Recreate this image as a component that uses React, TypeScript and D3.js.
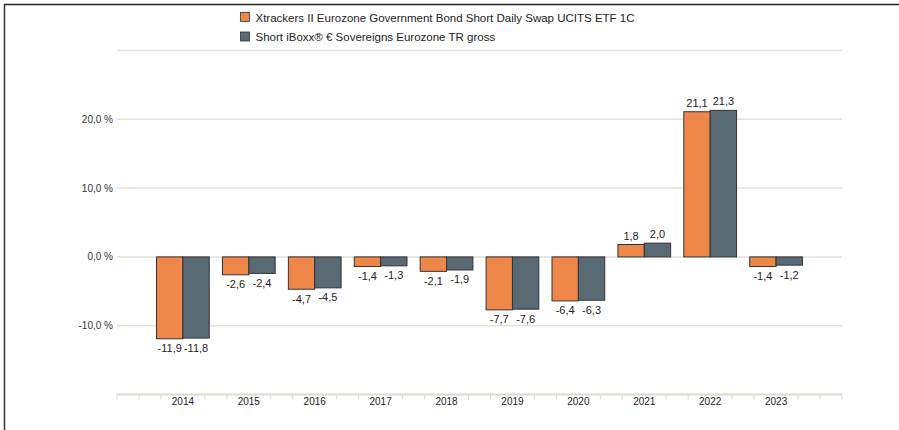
import React from "react";
import * as d3 from "d3";

const years = ["2014", "2015", "2016", "2017", "2018", "2019", "2020", "2021", "2022", "2023"];
const fundValues = [-11.9, -2.6, -4.7, -1.4, -2.1, -7.7, -6.4, 1.8, 21.1, -1.4];
const indexValues = [-11.8, -2.4, -4.5, -1.3, -1.9, -7.6, -6.3, 2.0, 21.3, -1.2];
const seriesNames = [
  "Xtrackers II Eurozone Government Bond Short Daily Swap UCITS ETF 1C",
  "Short iBoxx® € Sovereigns Eurozone TR gross",
];
const yTicks = [-10, 0, 10, 20, 30];

const colors = ["#EF874B", "#596A75"];
const W = 899;
const H = 430;
const left = 117;
const right = 842;
const top = 50.5;
const bottom = 394.5;

const fmt = (v: number) => v.toFixed(1).replace(".", ",");

export default function App() {
  const x = d3.scalePoint<string>().domain(years).range([left, right]).padding(1);
  const step = x.step();
  const y = d3.scaleLinear().domain([-20, 30]).range([bottom, top]);
  const groupW = step * 0.8;
  const barW = groupW / 2;
  const series = [fundValues, indexValues];
  const font = "'Liberation Sans', Arial, sans-serif";

  const minorTicks: number[] = [];
  const nMinor = Math.round((right - left) / (step / 3));
  for (let j = 0; j <= nMinor; j++) {
    if (j % 3 === 0 && j > 0 && j < nMinor) continue;
    minorTicks.push(left + (j * step) / 3);
  }

  return (
    <svg width={W} height={H} style={{ position: "absolute", left: 0, top: 0, background: "#fff" }} fontFamily={font}>
      <line x1={4} x2={W} y1={4.5} y2={4.5} stroke="#222" strokeWidth={1.5} />
      <line x1={4.5} x2={4.5} y1={4} y2={H} stroke="#333" strokeWidth={1.5} />

      {/* legend */}
      {seriesNames.map((n, i) => (
        <g key={n} transform={`translate(240.5, ${12.5 + i * 19.5})`}>
          <rect width={9} height={9} fill={colors[i]} stroke="#333" strokeWidth={0.8} />
          <text x={15} y={9} fontSize={11.5} fill="#222">
            {n}
          </text>
        </g>
      ))}

      {/* gridlines */}
      {yTicks.map((t) => (
        <line key={t} x1={left} x2={right} y1={y(t)} y2={y(t)} stroke="#e3e1da" strokeWidth={1.5} />
      ))}
      {yTicks
        .filter((t) => t < 30)
        .map((t) => (
          <text key={t} x={113} y={y(t) + 3.5} textAnchor="end" fontSize={10} fill="#333">
            {`${fmt(t)} %`}
          </text>
        ))}

      {/* bars */}
      {series.map((vals, si) =>
        vals.map((v, i) => {
          const bx = (x(years[i]) as number) - groupW / 2 + si * barW;
          const y0 = y(Math.max(0, v));
          const h = Math.abs(y(v) - y(0));
          return (
            <g key={`${si}-${i}`}>
              <rect x={bx} y={y0} width={barW} height={h} fill={colors[si]} stroke="#333" strokeWidth={1} />
              <text
                x={bx + barW / 2}
                y={v >= 0 ? y(v) - 5 : y(v) + 13.5}
                textAnchor="middle"
                fontSize={11}
                fill="#222"
              >
                {fmt(v)}
              </text>
            </g>
          );
        })
      )}

      {/* x axis */}
      <line x1={left} x2={right} y1={bottom} y2={bottom} stroke="#ddd9cf" strokeWidth={2} />
      {minorTicks.map((t, i) => (
        <line key={i} x1={t} x2={t} y1={bottom} y2={bottom + 5} stroke="#ddd9cf" strokeWidth={1} />
      ))}
      {years.map((yr) => (
        <text key={yr} x={x(yr) as number} y={bottom + 10.5} textAnchor="middle" fontSize={10} fill="#222">
          {yr}
        </text>
      ))}
    </svg>
  );
}
